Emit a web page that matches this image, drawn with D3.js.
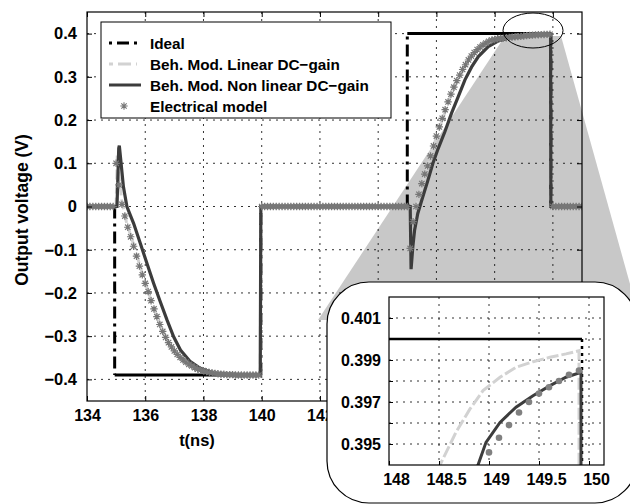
<!DOCTYPE html>
<html><head><meta charset="utf-8">
<script src="https://cdn.jsdelivr.net/npm/d3@7"></script>
<style>
html,body{margin:0;padding:0;background:#fff;}
svg{display:block;font-family:"Liberation Sans",Arial,sans-serif;font-weight:bold;}
</style></head>
<body><svg id="c" width="630" height="504"></svg>
<script>
// ---------------- data ----------------
const xTicks = [134,136,138,140,142,144,146,148,150];
const xTickLabels = ["134","136","138","140","142","","","",""]; // 144..150 hidden behind the inset
const yTicks = [-0.4,-0.3,-0.2,-0.1,0,0.1,0.2,0.3,0.4];
const yTickLabels = ["\u22120.4","\u22120.3","\u22120.2","\u22120.1","0","0.1","0.2","0.3","0.4"];
const insetXTicks = [148,148.5,149,149.5,150];
const insetXTickLabels = ["148","148.5","149","149.5","150"];
const insetYTicks = [0.395,0.396,0.397,0.398,0.399,0.400,0.401];
const insetYTickLabels = ["0.395","","0.397","","0.399","","0.401"];
const legendLabels = ["Ideal","Beh. Mod. Linear DC\u2212gain","Beh. Mod. Non linear DC\u2212gain","Electrical model"];

const idealT = [134,134.95,134.95,139.97,139.97,145.0,145.0,149.93,149.93,151];
const idealV = [0,0,-0.39,-0.39,0,0,0.4,0.4,0,0];

const linT = [134,135.0,135.04,135.1,135.2,135.35,135.6,135.9,136.2,136.5,136.8,137.1,137.4,137.7,138.0,138.4,138.8,139.2,139.95,139.97,145.1,145.12,145.2,145.35,145.6,145.9,146.2,146.5,146.8,147.1,147.4,147.7,148.0,148.3,148.51,148.67,148.81,148.94,149.11,149.27,149.44,149.61,149.77,149.9,149.93,151];
const linV = [0,0,0.12,0.07,0.01,-0.035,-0.088,-0.155,-0.216,-0.272,-0.315,-0.343,-0.362,-0.375,-0.382,-0.387,-0.389,-0.39,-0.39,0,0,-0.12,-0.045,0.01,0.07,0.14,0.2,0.258,0.303,0.338,0.363,0.381,0.3885,0.392,0.394,0.39556,0.39667,0.39754,0.39818,0.39865,0.39892,0.39913,0.39929,0.39944,0,0];

const nlT = [134,135.03,135.09,135.11,135.16,135.25,135.37,135.60,135.83,136.06,136.29,136.52,136.75,136.98,137.21,137.55,137.90,138.36,139.05,139.95,139.97,145.10,145.13,145.19,145.25,145.36,145.53,145.71,145.88,146.06,146.29,146.52,146.75,146.98,147.21,147.44,147.78,148.13,148.5,148.89,148.97,149.11,149.27,149.44,149.61,149.77,149.92,149.93,151];
const nlV = [0,0,0.135,0.141,0.107,0.046,0.0,-0.039,-0.085,-0.132,-0.178,-0.221,-0.263,-0.302,-0.332,-0.359,-0.375,-0.386,-0.390,-0.390,0,0,-0.145,-0.093,-0.055,-0.016,0.022,0.061,0.100,0.134,0.173,0.216,0.254,0.293,0.323,0.347,0.370,0.383,0.3905,0.394,0.39508,0.39603,0.39675,0.3973,0.39778,0.39818,0.39841,0,0];

const elecT = [134.0,134.1,134.2,134.3,134.4,134.5,134.6,134.7,134.8,134.9,
135.0,135.1,135.2,135.3,135.4,135.5,135.6,135.7,135.8,135.9,
136.0,136.1,136.2,136.3,136.4,136.5,136.6,136.7,136.8,136.9,
137.0,137.1,137.2,137.3,137.4,137.5,137.6,137.7,137.8,137.9,
138.0,138.1,138.2,138.3,138.4,138.5,138.6,138.7,138.8,138.9,
139.0,139.1,139.2,139.3,139.4,139.5,139.6,139.7,139.8,139.9,
140.0,140.1,140.2,140.3,140.4,140.5,140.6,140.7,140.8,140.9,
141.0,141.1,141.2,141.3,141.4,141.5,141.6,141.7,141.8,141.9,
142.0,142.1,142.2,142.3,142.4,142.5,142.6,142.7,142.8,142.9,
143.0,143.1,143.2,143.3,143.4,143.5,143.6,143.7,143.8,143.9,
144.0,144.1,144.2,144.3,144.4,144.5,144.6,144.7,144.8,144.9,
145.0,145.1,145.2,145.3,145.4,145.5,145.6,145.7,145.8,145.9,
146.0,146.1,146.2,146.3,146.4,146.5,146.6,146.7,146.8,146.9,
147.0,147.1,147.2,147.3,147.4,147.5,147.6,147.7,147.8,147.9,
148.0,148.1,148.2,148.3,148.4,148.5,148.6,148.7,148.8,148.9,
149.0,149.1,149.2,149.3,149.4,149.5,149.6,149.7,149.8,149.9,
150.0,150.1,150.2,150.3,150.4,150.5,150.6,150.7,150.8,150.9,151.0];
const elecV = [0,0,0,0,0,0,0,0,0,0,
0.10,0.05,0.005,-0.022,-0.048,-0.07,-0.092,-0.115,-0.138,-0.158,
-0.178,-0.197,-0.218,-0.237,-0.255,-0.273,-0.289,-0.303,-0.315,-0.325,
-0.334,-0.342,-0.349,-0.355,-0.36,-0.365,-0.369,-0.373,-0.376,-0.378,
-0.38,-0.382,-0.384,-0.385,-0.386,-0.387,-0.388,-0.388,-0.389,-0.389,
-0.389,-0.39,-0.39,-0.39,-0.39,-0.39,-0.39,-0.39,-0.39,-0.39,
0,0,0,0,0,0,0,0,0,0,
0,0,0,0,0,0,0,0,0,0,
0,0,0,0,0,0,0,0,0,0,
0,0,0,0,0,0,0,0,0,0,
0,0,0,0,0,0,0,0,0,0,
0,-0.097,-0.035,0.0,0.028,0.053,0.075,0.094,0.117,0.140,
0.163,0.184,0.204,0.224,0.242,0.260,0.276,0.291,0.304,0.317,
0.328,0.339,0.348,0.356,0.363,0.369,0.374,0.378,0.382,0.385,
0.3865,0.388,0.389,0.3898,0.3905,0.3912,0.3918,0.3924,0.393,0.3936,
0.3946,0.3953,0.3959,0.3965,0.3970,0.3974,0.3977,0.3980,0.3983,0.3985,
0,0,0,0,0,0,0,0,0,0,0];

const zip = (t,v) => t.map((d,i)=>({t:d,v:v[i]}));
const ideal = zip(idealT,idealV), lin = zip(linT,linV), nl = zip(nlT,nlV), elec = zip(elecT,elecV);
const idealSegs = d3.pairs(ideal);

// ---------------- styles ----------------
const C = {ideal:"#000", lin:"#d2d2d2", nl:"#3c3c3c", elec:"#777", grid:"#000", shade:"#c8c8c8"};
const DASH_IDEAL = "12,5,3,5", DASH_LIN = "10,4", GRID_DASH = "2,5";
const starPath = "M-3.7,0H3.7M0,-3.7V3.7M-2.7,-2.7L2.7,2.7M-2.7,2.7L2.7,-2.7";

const svg = d3.select("#c");
const x = d3.scaleLinear().domain([134,151]).range([87,582]);
const y = d3.scaleLinear().domain([-0.45,0.45]).range([401,12]);
const [X0,X1] = x.range(), [Y1,Y0] = y.range();

const defs = svg.append("defs");
defs.append("clipPath").attr("id","mainClip").append("rect").attr("x",X0).attr("y",Y0).attr("width",X1-X0).attr("height",Y1-Y0);

// zoom wedge (behind everything)
svg.append("polygon").attr("points",[[505,36],[561,36],[640,320],[318,320]].map(p=>p.join(",")).join(" "))
  .attr("fill",C.shade);

// grid
const g = svg.append("g");
g.selectAll(".gx").data(xTicks.slice(1)).join("line")
  .attr("x1",d=>x(d)).attr("x2",d=>x(d)).attr("y1",Y0).attr("y2",Y1)
  .attr("stroke",C.grid).attr("stroke-width",1).attr("stroke-dasharray",GRID_DASH).attr("opacity",0.8);
g.selectAll(".gy").data(yTicks).join("line")
  .attr("x1",X0).attr("x2",X1).attr("y1",d=>y(d)).attr("y2",d=>y(d))
  .attr("stroke",C.grid).attr("stroke-width",1).attr("stroke-dasharray",GRID_DASH).attr("opacity",0.8);

// curves
const line = d3.line().x(d=>x(d.t)).y(d=>y(d.v));
const plot = svg.append("g").attr("clip-path","url(#mainClip)");
plot.selectAll(".iseg").data(idealSegs).join("path").attr("d",d=>line(d)).attr("fill","none")
  .attr("stroke",C.ideal).attr("stroke-width",3).attr("stroke-dasharray",d=>d[0].t===d[1].t?DASH_IDEAL:null);
plot.append("path").datum(lin).attr("d",line).attr("fill","none").attr("stroke",C.lin).attr("stroke-width",3).attr("stroke-dasharray",DASH_LIN);
plot.append("path").datum(nl).attr("d",line).attr("fill","none").attr("stroke",C.nl).attr("stroke-width",3.2);
plot.selectAll(".star").data(elec).join("path").attr("d",starPath)
  .attr("transform",d=>`translate(${x(d.t)},${y(d.v)})`).attr("stroke",C.elec).attr("stroke-width",1.2).attr("fill","none");

// frame + ticks
svg.append("rect").attr("x",X0).attr("y",Y0).attr("width",X1-X0).attr("height",Y1-Y0).attr("fill","none").attr("stroke","#000").attr("stroke-width",1.2);
const axB = d3.axisBottom(x).tickValues(xTicks).tickSizeInner(-5).tickSizeOuter(0).tickPadding(9).tickFormat((d,i)=>xTickLabels[i]);
const axL = d3.axisLeft(y).tickValues(yTicks).tickSizeInner(-5).tickSizeOuter(0).tickPadding(10).tickFormat((d,i)=>yTickLabels[i]);
const axT = d3.axisTop(x).tickValues(xTicks).tickSizeInner(-5).tickSizeOuter(0).tickFormat("");
const axR = d3.axisRight(y).tickValues(yTicks).tickSizeInner(-5).tickSizeOuter(0).tickFormat("");
function styleAx(sel,fs){ sel.select(".domain").remove(); sel.selectAll("text").attr("font-size",fs||16).attr("font-family","Liberation Sans, Arial").attr("font-weight","bold").attr("fill","#000"); sel.selectAll("line").attr("stroke","#000"); }
svg.append("g").attr("transform",`translate(0,${Y1})`).call(axB).call(styleAx,16);
svg.append("g").attr("transform",`translate(${X0},0)`).call(axL).call(styleAx,16.5);
svg.append("g").attr("transform",`translate(0,${Y0})`).call(axT).call(styleAx);
svg.append("g").attr("transform",`translate(${X1},0)`).call(axR).call(styleAx);

// axis labels
svg.append("text").attr("x",197).attr("y",446).attr("text-anchor","middle").attr("font-size",16.5).text("t(ns)");
svg.append("text").attr("transform",`translate(28,210) rotate(-90)`).attr("text-anchor","middle").attr("font-size",17.5).text("Output voltage (V)");

// legend
const lg = svg.append("g");
lg.append("rect").attr("x",101).attr("y",22).attr("width",290).attr("height",96).attr("fill","#fff").attr("stroke","#000").attr("stroke-width",1);
const rows = [43,64,85,106];
const lstyle = [
  {s:C.ideal,d:"3,5,12,5,3",w:3},{s:C.lin,d:"4,5,13,5,4",w:3},{s:C.nl,d:null,w:3}];
lstyle.forEach((st,i)=>{
  lg.append("line").attr("x1",109).attr("x2",i===2?141:137).attr("y1",rows[i]).attr("y2",rows[i]).attr("stroke",st.s).attr("stroke-width",st.w).attr("stroke-dasharray",st.d);
});
lg.append("path").attr("d",starPath).attr("transform",`translate(124,${rows[3]})`).attr("stroke",C.elec).attr("stroke-width",1.1);
lg.selectAll(".lt").data(legendLabels).join("text").attr("x",150).attr("y",(d,i)=>rows[i]+5.5).attr("font-size",15.3).text(d=>d);

// ellipse
svg.append("ellipse").attr("cx",533).attr("cy",30.5).attr("rx",30).attr("ry",17.5).attr("fill","none").attr("stroke","#000").attr("stroke-width",1);

// ---------------- inset ----------------
svg.append("rect").attr("x",327).attr("y",282).attr("width",310).attr("height",221).attr("rx",42).attr("ry",42)
  .attr("fill","#fff").attr("stroke","#000").attr("stroke-width",1.2);
const xi = d3.scaleLinear().domain([148,150.15]).range([389,604]);
const yi = d3.scaleLinear().domain([0.394,0.402]).range([465,297]);
const [IX0,IX1] = xi.range(), [IY1,IY0] = yi.range();
defs.append("clipPath").attr("id","inClip").append("rect").attr("x",IX0).attr("y",IY0).attr("width",IX1-IX0).attr("height",IY1-IY0);
const gi = svg.append("g");
gi.selectAll(".gix").data(insetXTicks.slice(1)).join("line")
  .attr("x1",d=>xi(d)).attr("x2",d=>xi(d)).attr("y1",IY0).attr("y2",IY1)
  .attr("stroke","#000").attr("stroke-dasharray",GRID_DASH).attr("opacity",0.8);
gi.selectAll(".giy").data(insetYTicks).join("line")
  .attr("x1",IX0).attr("x2",IX1).attr("y1",d=>yi(d)).attr("y2",d=>yi(d))
  .attr("stroke","#000").attr("stroke-dasharray",GRID_DASH).attr("opacity",0.8);
const linei = d3.line().x(d=>xi(d.t)).y(d=>yi(d.v));
const pi = svg.append("g").attr("clip-path","url(#inClip)");
pi.selectAll(".iseg").data(idealSegs).join("path").attr("d",d=>linei(d)).attr("fill","none")
  .attr("stroke",C.ideal).attr("stroke-width",2.5).attr("stroke-dasharray",d=>d[0].t===d[1].t?"3,4":null);
pi.append("path").datum(lin).attr("d",linei).attr("fill","none").attr("stroke",C.lin).attr("stroke-width",3).attr("stroke-dasharray","12,3");
pi.append("path").datum(nl).attr("d",linei).attr("fill","none").attr("stroke",C.nl).attr("stroke-width",3);
pi.selectAll(".dot").data(elec.filter(d=>d.t>=148 && d.v>0.3)).join("circle")
  .attr("cx",d=>xi(d.t)).attr("cy",d=>yi(d.v)).attr("r",3.3).attr("fill","#808080");
svg.append("rect").attr("x",IX0).attr("y",IY0).attr("width",IX1-IX0).attr("height",IY1-IY0).attr("fill","none").attr("stroke","#000").attr("stroke-width",1.2);
const aiB = d3.axisBottom(xi).tickValues(insetXTicks).tickSizeInner(-4).tickSizeOuter(0).tickPadding(9).tickFormat((d,i)=>insetXTickLabels[i]);
const aiL = d3.axisLeft(yi).tickValues(insetYTicks).tickSizeInner(-4).tickSizeOuter(0).tickPadding(8).tickFormat((d,i)=>insetYTickLabels[i]);
svg.append("g").attr("transform",`translate(0,${IY1})`).call(aiB).call(styleAx).selectAll("text").attr("dx",7);
svg.append("g").attr("transform",`translate(${IX0},0)`).call(aiL).call(styleAx);
</script></body></html>
